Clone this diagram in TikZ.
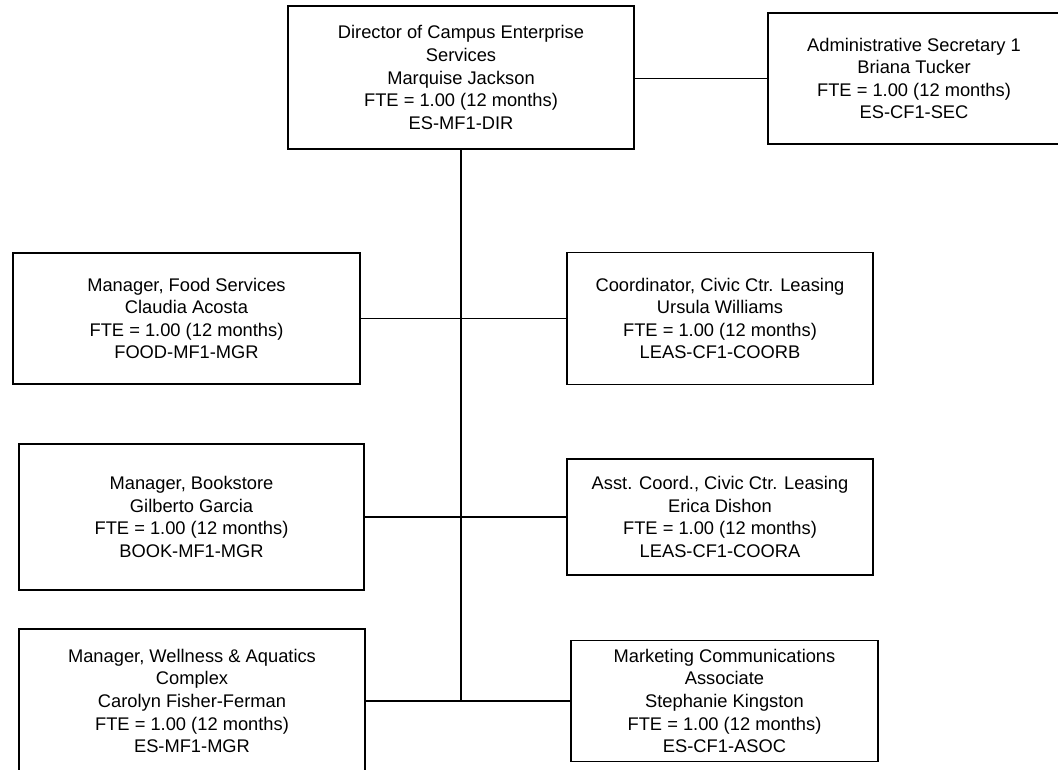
\documentclass[tikz,border=0pt]{standalone}
\usepackage{fontspec}
\setmainfont{Liberation Sans}
\begin{document}
\begin{tikzpicture}[x=1pt,y=-1pt,
  post/.style={draw=black, line width=1.3pt, fill=white, inner sep=0pt,
    align=center, font=\fontsize{18.3}{22.6}\selectfont},
  link/.style={draw=black, line width=1.3pt},
  trunk/.style={draw=black, line width=1.7pt}]
\useasboundingbox (0,0) rectangle (1058,770);
\clip (0,0) rectangle (1058,770);

% positions
\node[post, minimum width=346pt, minimum height=143pt] (dir) at (461,77.5)
  {Director of Campus Enterprise\\Services\\Marquise Jackson\\FTE = 1.00 (12 months)\\ES-MF1-DIR};
\node[post, minimum width=292pt, minimum height=131pt] (sec) at (914,78.5)
  {Administrative Secretary 1\\Briana Tucker\\FTE = 1.00 (12 months)\\ES-CF1-SEC};
\node[post, minimum width=347pt, minimum height=131pt] (food) at (186.5,318.5)
  {Manager, Food Services\\Claudia Acosta\\FTE = 1.00 (12 months)\\FOOD-MF1-MGR};
\node[post, minimum width=306pt, minimum height=132pt] (coord) at (720,318.5)
  {Coordinator, Civic Ctr. Leasing\\Ursula Williams\\FTE = 1.00 (12 months)\\LEAS-CF1-COORB};
\node[post, minimum width=345pt, minimum height=146pt] (book) at (191.5,517)
  {Manager, Bookstore\\Gilberto Garcia\\FTE = 1.00 (12 months)\\BOOK-MF1-MGR};
\node[post, minimum width=306pt, minimum height=116pt] (asst) at (720,517)
  {Asst. Coord., Civic Ctr. Leasing\\Erica Dishon\\FTE = 1.00 (12 months)\\LEAS-CF1-COORA};
\node[post, minimum width=346pt, minimum height=144pt] (well) at (192,701)
  {Manager, Wellness \& Aquatics\\Complex\\Carolyn Fisher-Ferman\\FTE = 1.00 (12 months)\\ES-MF1-MGR};
\node[post, minimum width=307pt, minimum height=121pt] (mkt) at (724.5,701)
  {Marketing Communications\\Associate\\Stephanie Kingston\\FTE = 1.00 (12 months)\\ES-CF1-ASOC};

% connectors
\draw[link] (sec.west) -- (sec.west -| dir.east);
\draw[trunk] (dir.south) -- (dir.south |- well.east);
\draw[link] (food.east) -- (coord.west);
\draw[link] (book.east) -- (asst.west);
\draw[link] (well.east) -- (mkt.west);
\end{tikzpicture}
\end{document}
